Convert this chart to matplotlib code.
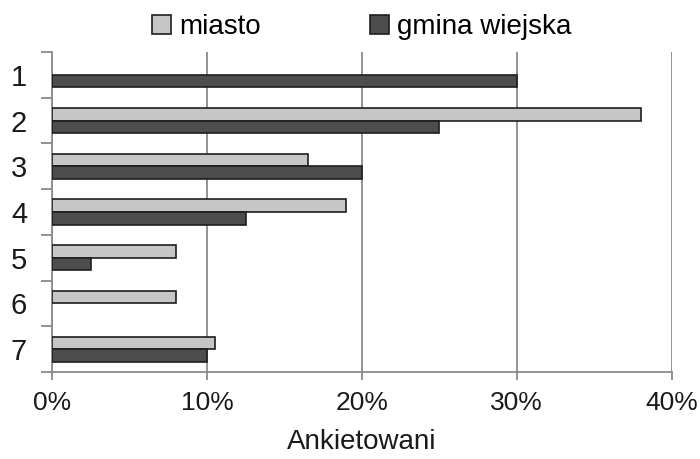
import matplotlib.pyplot as plt
from matplotlib.ticker import FixedLocator, PercentFormatter
import numpy as np

plt.rcParams['font.family'] = ['Liberation Sans', 'DejaVu Sans']

# data (percent of respondents)
categories = ['1', '2', '3', '4', '5', '6', '7']
miasto = [0, 38, 16.5, 19, 8, 8, 10.5]
gmina_wiejska = [30, 25, 20, 12.5, 2.5, 0, 10]
series_names = ['miasto', 'gmina wiejska']

fig = plt.figure(figsize=(7.0, 4.59), dpi=100)
ax = fig.add_axes([0.0743, 0.1895, 0.8853, 0.6972])

y = np.arange(len(categories))
h = 0.274


def edge_widths(values):
    # empty bars get no outline, as in the original
    return [1.2 if v > 0 else 0 for v in values]


ax.barh(y - h / 2, miasto, height=h, color='#c6c6c6', edgecolor='#1e1e1e',
        linewidth=edge_widths(miasto), label=series_names[0], zorder=3)
ax.barh(y + h / 2, gmina_wiejska, height=h, color='#4d4d4d', edgecolor='#1e1e1e',
        linewidth=edge_widths(gmina_wiejska), label=series_names[1], zorder=3)

ax.set_xlim(0, 40)
ax.set_ylim(len(categories) - 0.5, -0.5)
ax.set_xticks([0, 10, 20, 30, 40])
ax.xaxis.set_major_formatter(PercentFormatter(decimals=0))
ax.set_yticks(y)
ax.set_yticklabels(categories)
ax.yaxis.set_minor_locator(FixedLocator(np.arange(-0.5, len(categories), 1)))

ax.grid(axis='x', color='#8a8a8a', linewidth=1.3, zorder=0)
for s in ['top', 'right']:
    ax.spines[s].set_visible(False)
for s in ['left', 'bottom']:
    ax.spines[s].set_color('#8a8a8a')
    ax.spines[s].set_linewidth(1.3)

ax.tick_params(axis='x', labelsize=19, length=6, width=1.3, color='#8a8a8a',
               pad=8, labelcolor='#1a1a1a')
ax.tick_params(axis='y', which='major', labelsize=21, length=0, pad=18,
               labelcolor='#1a1a1a')
ax.tick_params(axis='y', which='minor', length=8, width=1.3, color='#8a8a8a')

ax.set_xlabel('Ankietowani', fontsize=20, color='#1a1a1a', labelpad=10)

leg = ax.legend(loc='center', bbox_to_anchor=(0.5, 1.078), ncol=2, frameon=False,
                fontsize=20, handlelength=0.7, handleheight=0.7, handletextpad=0.3,
                columnspacing=3.9)
for hnd in leg.legend_handles:
    hnd.set_linewidth(1.2)

fig.savefig('out.png', dpi=100)
